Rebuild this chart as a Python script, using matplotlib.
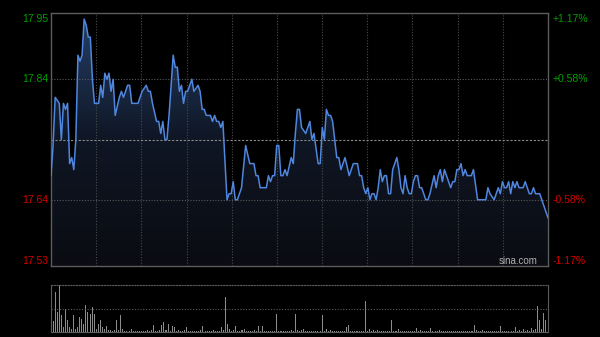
import numpy as np
import matplotlib
matplotlib.use('Agg')
import matplotlib.pyplot as plt
from matplotlib.colors import LinearSegmentedColormap

# 分时数据（分钟序号, 价格）
minutes = [0, 1, 2, 4, 5, 6, 7, 8, 9, 10, 11, 12, 13, 14, 15, 16, 17, 18, 19, 20,
           21, 23, 24, 25, 26, 27, 28, 29, 30, 31, 33, 34, 35, 37, 38, 39, 42, 43, 44, 46,
           47, 48, 49, 51, 52, 53, 54, 55, 56, 57, 59, 60, 61, 62, 63, 64, 65, 66, 68, 69,
           71, 72, 73, 74, 75, 77, 78, 79, 80, 81, 82, 83, 85, 86, 87, 88, 89, 90, 92, 94,
           96, 98, 99, 100, 101, 104, 105, 106, 107, 108, 109, 110, 111, 112, 113, 114, 116, 117, 118, 119,
           120, 121, 123, 124, 125, 126, 127, 129, 130, 131, 132, 133, 134, 135, 136, 138, 139, 140, 142, 144,
           145, 146, 148, 149, 150, 151, 152, 153, 154, 155, 156, 157, 158, 159, 160, 161, 162, 163, 164, 165,
           166, 167, 168, 169, 170, 171, 172, 173, 174, 175, 176, 177, 178, 179, 181, 182, 183, 185, 186, 187,
           188, 189, 190, 191, 192, 193, 194, 195, 196, 197, 198, 199, 200, 201, 203, 204, 206, 210, 211, 212,
           214, 215, 216, 217, 218, 219, 220, 221, 222, 223, 224, 225, 226, 228, 229, 230, 231, 232, 233, 234,
           236, 237, 238, 239, 240]
prices = [17.68, 17.73, 17.81, 17.80, 17.74, 17.80, 17.79, 17.80, 17.70, 17.71, 17.69, 17.74, 17.88, 17.87, 17.88, 17.94, 17.93, 17.91, 17.91, 17.84,
          17.80, 17.80, 17.83, 17.81, 17.85, 17.84, 17.85, 17.82, 17.84, 17.78, 17.81, 17.82, 17.81, 17.83, 17.83, 17.80, 17.80, 17.81, 17.82, 17.83,
          17.82, 17.82, 17.80, 17.77, 17.77, 17.75, 17.77, 17.74, 17.74, 17.78, 17.88, 17.86, 17.86, 17.82, 17.83, 17.80, 17.82, 17.82, 17.84, 17.82,
          17.83, 17.82, 17.79, 17.79, 17.78, 17.78, 17.77, 17.78, 17.77, 17.77, 17.76, 17.77, 17.64, 17.65, 17.65, 17.67, 17.64, 17.64, 17.66, 17.73,
          17.70, 17.70, 17.68, 17.68, 17.66, 17.66, 17.68, 17.67, 17.68, 17.68, 17.73, 17.73, 17.68, 17.68, 17.69, 17.68, 17.71, 17.70, 17.75, 17.79,
          17.79, 17.76, 17.75, 17.76, 17.77, 17.74, 17.75, 17.70, 17.70, 17.76, 17.74, 17.79, 17.78, 17.78, 17.77, 17.71, 17.71, 17.69, 17.71, 17.68,
          17.69, 17.70, 17.70, 17.68, 17.68, 17.66, 17.65, 17.66, 17.64, 17.65, 17.65, 17.64, 17.66, 17.69, 17.67, 17.68, 17.68, 17.65, 17.65, 17.69,
          17.70, 17.71, 17.69, 17.66, 17.65, 17.68, 17.66, 17.65, 17.65, 17.67, 17.68, 17.68, 17.66, 17.66, 17.64, 17.64, 17.65, 17.68, 17.66, 17.68,
          17.69, 17.67, 17.69, 17.68, 17.67, 17.66, 17.67, 17.67, 17.69, 17.69, 17.70, 17.68, 17.69, 17.68, 17.68, 17.69, 17.64, 17.64, 17.66, 17.65,
          17.64, 17.65, 17.66, 17.65, 17.67, 17.66, 17.66, 17.67, 17.65, 17.67, 17.66, 17.67, 17.66, 17.66, 17.67, 17.66, 17.65, 17.65, 17.66, 17.65,
          17.65, 17.64, 17.63, 17.62, 17.61]

# 成交量（每分钟）
volume = [10.7, 40, 20, 46.7, 16.7, 5, 23, 11.7, 5, 3, 16.7, 3.3, 5, 15, 13.3, 8.3, 26.7, 20, 18.3, 25,
          18.3, 3.3, 8.3, 11.7, 5, 3.3, 6, 2.3, 2, 1.5, 2, 11.7, 2, 16.7, 3.3, 1.5, 1, 1.5, 3.3, 1.5,
          1, 1.5, 1, 1.2, 1.5, 1, 2, 1.5, 2, 6.7, 1.5, 1, 2, 6.7, 10, 2, 8.3, 1.5, 5.7, 5,
          1.5, 2, 1, 1.5, 2, 5, 1.5, 1, 1.5, 1.2, 1, 1.5, 2, 6, 1.5, 1, 1.5, 1, 2, 1.5,
          1.5, 1, 5, 2, 34.3, 8.3, 3.3, 1.5, 2, 5.7, 1.5, 1, 2, 3.3, 1.5, 1, 1.5, 1, 2, 1.5,
          5.7, 1.5, 5.7, 1, 1.5, 1, 1.2, 1.5, 1, 18.3, 1, 1.5, 1, 1.2, 1, 1.5, 2, 1, 18.3, 2.3,
          1.5, 2.3, 3.3, 1, 1.5, 1, 1.2, 1, 1.5, 1, 1.2, 16.7, 1.5, 3.3, 1.5, 2.3, 1, 1.5, 1, 1.2,
          1, 1.5, 1.2, 5, 6.7, 1.5, 1, 1.5, 1.2, 1, 1.5, 1, 30.7, 1.5, 3.3, 1.5, 2, 1.5, 2, 1.5,
          1.5, 1, 1.5, 1.2, 1, 11.7, 1.5, 1, 3.3, 1.5, 1, 1.5, 1.2, 1, 1.5, 1, 1.2, 4, 1.5, 2,
          1.5, 1, 1.2, 1.5, 4.3, 1.5, 1, 1.5, 2.3, 1, 1.5, 1.2, 1, 1.5, 1, 1.2, 1, 1.5, 1, 1.2,
          1, 1.5, 1, 1.2, 1.5, 6.7, 2, 1.5, 1, 2.3, 1.5, 1, 1.2, 1, 1.5, 1, 1.2, 1.5, 6, 1.5,
          1, 1.2, 1.5, 1, 1.5, 5, 1.5, 2, 1.5, 3.3, 1.5, 2, 1.5, 4, 2, 3.3, 25.7, 11.7, 3.3, 19.3, 12]

pre_close = 17.74
price_labels = [17.95, 17.84, 17.64, 17.53]
pct_labels = ['+1.17%', '+0.58%', '-0.58%', '-1.17%']

plt.rcParams['font.family'] = ['Liberation Sans', 'DejaVu Sans']

fig = plt.figure(figsize=(6, 3.37), dpi=100, facecolor='black')
ax = fig.add_axes([0.085, 0.2107, 0.8283, 0.7507])
ax.set_facecolor('black')

# 渐变填充
poly = ax.fill_between(minutes, prices, 17.53, color='none', lw=0)
grad = np.linspace(0, 1, 256).reshape(-1, 1)
cmap = LinearSegmentedColormap.from_list('g', ['#0a0c12', '#0f1624', '#25406a'])
img = ax.imshow(grad, extent=[0, 240, 17.53, 17.95], origin='lower', aspect='auto',
                cmap=cmap, zorder=1)
img.set_clip_path(poly.get_paths()[0], transform=ax.transData)

ax.plot(minutes, prices, color='#4f86de', lw=1.1, zorder=4)

ax.set_xlim(0, 240)
ax.set_ylim(17.53, 17.95)

for k in range(1, 11):
    ax.axvline(k * 240 / 11, color='#4a4a4a', lw=0.8, ls=(0, (1, 1.5)), zorder=2)
for v in [17.84, 17.64]:
    ax.axhline(v, color='#5a5a5a', lw=0.8, ls=(0, (1, 1.5)), zorder=2)
ax.axhline(pre_close, color='#8a8a8a', lw=0.8, ls=(0, (2, 1.5)), zorder=2)

ax.set_xticks([])
ax.set_yticks([])
for sp in ax.spines.values():
    sp.set_color('#5c5c5c')
    sp.set_linewidth(1)

offsets = [-6, 0, 0, 5]
for v, pct, dy in zip(price_labels, pct_labels, offsets):
    c = '#00a000' if v > pre_close else '#d40000'
    ax.annotate('%.2f' % v, xy=(0, v), xycoords=ax.get_yaxis_transform(),
                xytext=(-3, dy), textcoords='offset pixels',
                ha='right', va='center', color=c, fontsize=7.5)
    ax.annotate(pct, xy=(1, v), xycoords=ax.get_yaxis_transform(),
                xytext=(5, dy), textcoords='offset pixels',
                ha='left', va='center', color=c, fontsize=7.5)

ax.annotate('sina.com', xy=(1, 0), xycoords='axes fraction', xytext=(-10, 5),
            textcoords='offset pixels', ha='right', va='center',
            color='#b0b0b0', fontsize=7)

# 成交量
vax = fig.add_axes([0.085, 0.0148, 0.8283, 0.1395])
vax.set_facecolor('black')
vax.bar(range(len(volume)), volume, width=0.5, color='#8c8c8c', lw=0)
vmax = max(volume)
vax.set_xlim(-1, 241)
vax.set_ylim(0, vmax)
vax.axhline(vmax / 2, color='#5a5a5a', lw=0.8, ls=(0, (1, 1.5)))
vax.set_xticks([])
vax.set_yticks([])
for sp in vax.spines.values():
    sp.set_color('#5c5c5c')
vax.spines['top'].set_linestyle((0, (1, 1.5)))

fig.savefig('out.png', dpi=100, facecolor='black')
